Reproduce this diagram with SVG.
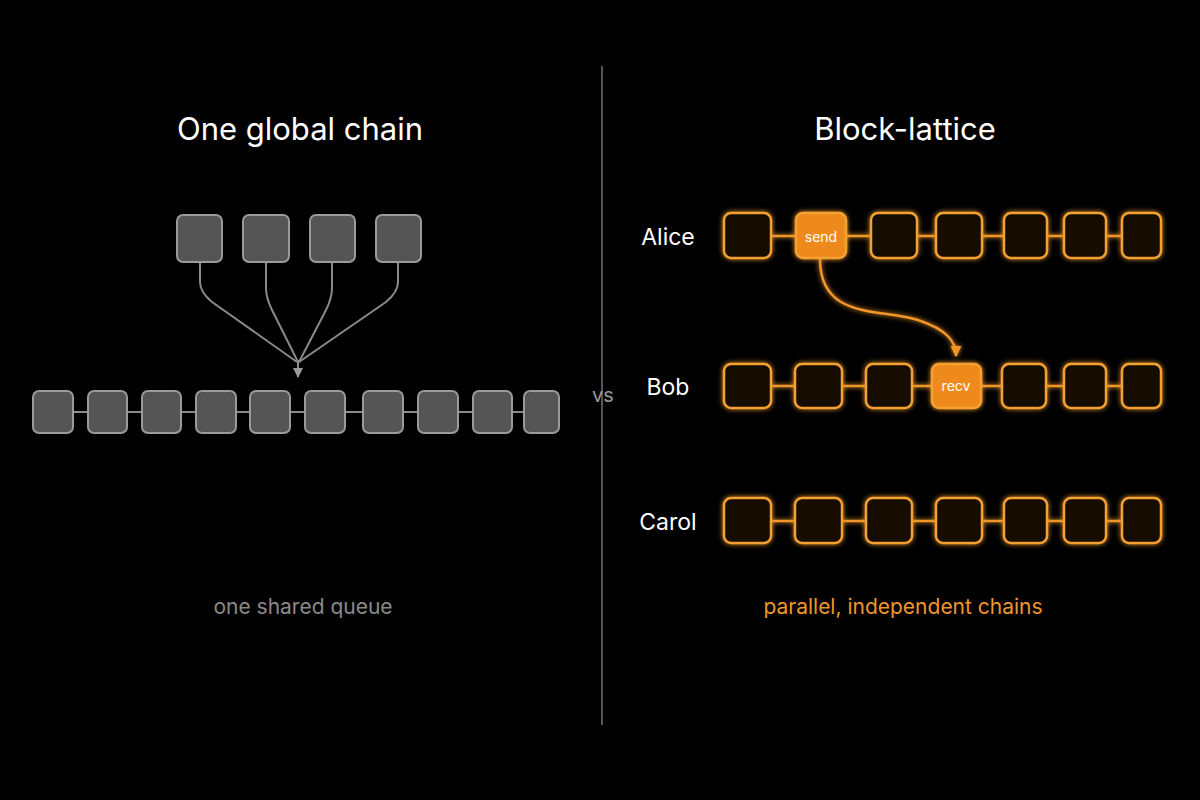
<svg xmlns="http://www.w3.org/2000/svg" width="1200" height="800" viewBox="0 0 1200 800">
<defs>
<style>
.t{font-family:"Inter","Liberation Sans",sans-serif;fill:#fff}
.g{fill:#555;stroke:#9a9a9a;stroke-width:2}
.o{fill:#130d05;stroke:#f5a030;stroke-width:2.5}
.of{fill:#ee8a1c;stroke:#f5a030;stroke-width:2.5}
.gl{stroke:#8a8a8a;stroke-width:2;fill:none}
.ol{stroke:#f0962a;stroke-width:2.5;fill:none}
</style>
<filter id="glow" x="-20%" y="-20%" width="140%" height="140%"><feGaussianBlur stdDeviation="2.5" result="b"/><feMerge><feMergeNode in="b"/><feMergeNode in="SourceGraphic"/></feMerge></filter>
<marker id="ag" viewBox="0 0 10 10" refX="5" refY="9" markerWidth="10" markerHeight="11" markerUnits="userSpaceOnUse"><path d="M0,0 L10,0 L5,10 Z" fill="#9a9a9a"/></marker>
<marker id="ao" viewBox="0 0 10 10" refX="5" refY="9" markerWidth="11" markerHeight="11" markerUnits="userSpaceOnUse"><path d="M0,0 L10,0 L5,10 Z" fill="#f0962a"/></marker>
</defs>
<rect width="1200" height="800" fill="#000"/>
<line x1="602" y1="66" x2="602" y2="725" stroke="#555" stroke-width="2"/>
<text class="t" x="603" y="402" font-size="20" text-anchor="middle" style="fill:#999">vs</text>
<text class="t" x="300" y="140" font-size="31" text-anchor="middle">One global chain</text>
<text class="t" x="905" y="140" font-size="31" text-anchor="middle">Block-lattice</text>
<g id="connectors">
<line class="gl" x1="40" y1="412" x2="555" y2="412"/>
<path class="gl" d="M200,262 V282 Q200,292 212,302 L297,362"/>
<path class="gl" d="M266,262 V288 Q266,298 272,310 L298,362"/>
<path class="gl" d="M332,262 V288 Q332,298 326,310 L299,362"/>
<path class="gl" d="M398,262 V282 Q398,292 386,302 L299,362"/>
<line x1="298" y1="360" x2="298" y2="377" stroke="#8a8a8a" stroke-width="2" marker-end="url(#ag)"/>
<g filter="url(#glow)">
<line class="ol" x1="740" y1="236" x2="1150" y2="236"/>
<line class="ol" x1="740" y1="386" x2="1150" y2="386"/>
<line class="ol" x1="740" y1="521" x2="1150" y2="521"/>
<path class="ol" d="M820,259 C820,320 880,308 918,320 C948,330 956,342 956,356" marker-end="url(#ao)"/>
</g>
</g>
<g id="global-chain">
<rect class="g" x="177" y="215" width="45" height="47" rx="6"/>
<rect class="g" x="243" y="215" width="46" height="47" rx="6"/>
<rect class="g" x="310" y="215" width="45" height="47" rx="6"/>
<rect class="g" x="376" y="215" width="45" height="47" rx="6"/>
<rect class="g" x="33" y="391" width="40" height="42" rx="6"/>
<rect class="g" x="88" y="391" width="39" height="42" rx="6"/>
<rect class="g" x="142" y="391" width="39" height="42" rx="6"/>
<rect class="g" x="196" y="391" width="40" height="42" rx="6"/>
<rect class="g" x="250" y="391" width="40" height="42" rx="6"/>
<rect class="g" x="305" y="391" width="40" height="42" rx="6"/>
<rect class="g" x="363" y="391" width="40" height="42" rx="6"/>
<rect class="g" x="418" y="391" width="40" height="42" rx="6"/>
<rect class="g" x="473" y="391" width="39" height="42" rx="6"/>
<rect class="g" x="524" y="391" width="35" height="42" rx="6"/>
</g>
<text class="t" x="303" y="614" font-size="21" text-anchor="middle" style="fill:#8a8a8a">one shared queue</text>
<g id="alice" filter="url(#glow)">
<rect class="o" x="724" y="213" width="47" height="45" rx="7"/>
<rect class="of" x="796" y="213" width="50" height="45" rx="7"/>
<rect class="o" x="871" y="213" width="46" height="45" rx="7"/>
<rect class="o" x="936" y="213" width="46" height="45" rx="7"/>
<rect class="o" x="1004" y="213" width="43" height="45" rx="7"/>
<rect class="o" x="1064" y="213" width="42" height="45" rx="7"/>
<rect class="o" x="1122" y="213" width="39" height="45" rx="7"/>
</g>
<g id="bob" filter="url(#glow)">
<rect class="o" x="724" y="364" width="47" height="44" rx="7"/>
<rect class="o" x="795" y="364" width="47" height="44" rx="7"/>
<rect class="o" x="866" y="364" width="46" height="44" rx="7"/>
<rect class="of" x="932" y="364" width="49" height="44" rx="7"/>
<rect class="o" x="1002" y="364" width="44" height="44" rx="7"/>
<rect class="o" x="1064" y="364" width="42" height="44" rx="7"/>
<rect class="o" x="1122" y="364" width="39" height="44" rx="7"/>
</g>
<g id="carol" filter="url(#glow)">
<rect class="o" x="724" y="498" width="47" height="45" rx="7"/>
<rect class="o" x="795" y="498" width="47" height="45" rx="7"/>
<rect class="o" x="866" y="498" width="46" height="45" rx="7"/>
<rect class="o" x="936" y="498" width="46" height="45" rx="7"/>
<rect class="o" x="1004" y="498" width="43" height="45" rx="7"/>
<rect class="o" x="1064" y="498" width="42" height="45" rx="7"/>
<rect class="o" x="1122" y="498" width="39" height="45" rx="7"/>
</g>
<text class="t" x="821" y="242" font-size="14" text-anchor="middle">send</text>
<text class="t" x="956" y="391" font-size="14" text-anchor="middle">recv</text>
<text class="t" x="668" y="245" font-size="23" text-anchor="middle">Alice</text>
<text class="t" x="668" y="395" font-size="23" text-anchor="middle">Bob</text>
<text class="t" x="668" y="530" font-size="23" text-anchor="middle">Carol</text>
<text class="t" x="903" y="614" font-size="21" text-anchor="middle" style="fill:#f0962a">parallel, independent chains</text>
</svg>
